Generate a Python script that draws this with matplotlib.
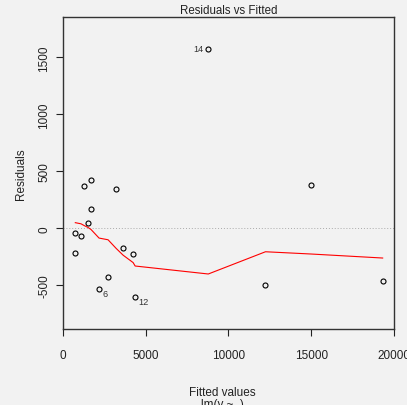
import matplotlib
matplotlib.use("Agg")
import matplotlib.pyplot as plt

plt.rcParams["font.family"] = ["Liberation Sans", "DejaVu Sans"]

# fitted values and residuals
fitted = [8790, 1712, 1294, 3224, 15020, 1712, 1530, 744, 1107,
          3648, 4253, 744, 2740, 2196, 4374, 12244, 19317]
resid = [1573, 424, 372, 345, 380, 169, 46, -41, -68,
         -173, -225, -217, -427, -532, -602, -497, -462]
point_ids = [14, None, None, None, None, None, None, None, None,
             None, None, None, None, 6, 12, None, None]

# lowess smoother
smooth_x = [762, 1107, 1294, 1530, 1712, 2196, 2740, 3224, 3648,
            4253, 4374, 8790, 12244, 15020, 19317]
smooth_y = [50, 40, 25, 8, -10, -85, -100, -175, -235,
            -300, -330, -400, -205, -225, -260]

xticks = [0, 5000, 10000, 15000, 20000]
yticks = [-500, 0, 500, 1000, 1500]

bg = "#f2f2f2"
fig = plt.figure(figsize=(4.07, 4.06), dpi=100, facecolor=bg)
ax = fig.add_axes([0.154, 0.187, 0.814, 0.768], facecolor=bg)

ax.axhline(0, color="#aaaaaa", linestyle=(0, (1, 2)), linewidth=0.7, zorder=1)
ax.plot(smooth_x, smooth_y, color="red", linewidth=0.8, zorder=2)
ax.plot(fitted, resid, linestyle="none", marker="o", markersize=3.6,
        markerfacecolor="none", markeredgecolor="black",
        markeredgewidth=0.8, zorder=3)

for x, y, lab in zip(fitted, resid, point_ids):
    if lab is None:
        continue
    if x > 6000:
        ax.annotate(str(lab), (x, y), xytext=(-3.5, 0), textcoords="offset points",
                    ha="right", va="center", fontsize=6.6, color="#333333")
    else:
        ax.annotate(str(lab), (x, y), xytext=(2.5, -3.2), textcoords="offset points",
                    ha="left", va="center", fontsize=6.6, color="#333333")

ax.set_xlim(0, 20000)
ax.set_ylim(-883, 1851)
ax.set_xticks(xticks)
ax.set_yticks(yticks)
ax.set_xticklabels([str(t) for t in xticks])
ax.set_yticklabels([str(t) for t in yticks], rotation=90, va="center")
ax.tick_params(axis="both", direction="out", length=5, width=0.8,
               labelsize=8.5, color="#222222", labelcolor="#222222")
ax.tick_params(axis="x", pad=9.5)
ax.tick_params(axis="y", pad=4)

for s in ax.spines.values():
    s.set_color("#333333")
    s.set_linewidth(1.0)

ax.set_title("Residuals vs Fitted", fontsize=8.3, color="#222222", pad=3)
ax.set_ylabel("Residuals", fontsize=8.5, color="#222222", labelpad=8)
fig.text(222 / 407, 1 - 393 / 406, "Fitted values", ha="center", va="center",
         fontsize=8.5, color="#222222")
fig.text(222 / 407, 1 - 405 / 406, "lm(y ~ .)", ha="center", va="center",
         fontsize=8.5, color="#222222")

fig.savefig("out.png", dpi=100, facecolor=bg)
